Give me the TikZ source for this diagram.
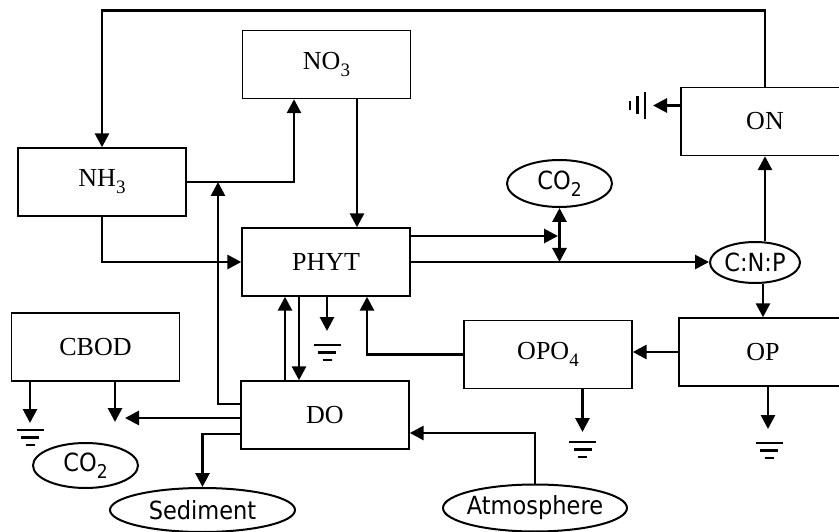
\documentclass[tikz,border=0pt]{standalone}
\usepackage{fontspec}
\setmainfont{Liberation Serif}
\newfontfamily\sfell[FakeStretch=0.9]{DejaVu Sans}
\usetikzlibrary{arrows.meta,shapes.geometric}
\newcommand\mysub[1]{\raisebox{-7pt}{\fontsize{19}{20}\selectfont #1}}
\begin{document}
\begin{tikzpicture}[x=1pt,y=-1pt,
  box/.style={draw, line width=1.4pt, minimum width=168pt, minimum height=68pt, inner sep=0pt, font=\fontsize{26}{30}\selectfont},
  ell/.style={draw, ellipse, line width=2pt, inner sep=0pt, font=\sfell\fontsize{25}{28}\selectfont},
  conn/.style={line width=2.8pt},
  arr/.style={conn, -{Triangle[length=14pt,width=14pt]}},
  darr/.style={conn, {Triangle[length=14pt,width=14pt]}-{Triangle[length=14pt,width=14pt]}},
  gnd/.pic={\draw[line width=2.6pt] (-13.5,0)--(13.5,0) (-9,7.5)--(9,7.5) (-4.5,15)--(4.5,15);}
]
\clip (0,0) rectangle (839,532);
% boxes
\node[box] (no3) at (326.5,64.5) {NO\mysub{3}};
\node[box] (nh3) at (102,182) {NH\mysub{3}};
\node[box] (on) at (765,121.5) {ON};
\node[box] (phyt) at (326,262) {PHYT};
\node[box] (cbod) at (95.5,347) {CBOD};
\node[box] (do) at (325,415) {DO};
\node[box] (opo4) at (548,354.5) {OPO\mysub{4}};
\node[box] (op) at (763,352) {OP};
% ellipses
\node[ell, minimum width=105pt, minimum height=47pt] (co2a) at (559.5,183.5) {CO\mysub{2}};
\node[ell, minimum width=90pt, minimum height=41pt] (cnp) at (755,262.5) {C:N:P};
\node[ell, minimum width=105pt, minimum height=45pt] (co2b) at (85.5,465.5) {CO\mysub{2}};
\node[ell, minimum width=185pt, minimum height=44pt] (sed) at (202.5,510) {Sediment};
\node[ell, minimum width=184pt, minimum height=47pt, inner xsep=-5pt] (atm) at (535,508) {Atmosphere};
% coordinates
\coordinate (j0) at (218,182);
\coordinate (j1) at (558,236);
\coordinate (j2) at (559.5,262);
\coordinate (c2) at (115,422);
\coordinate (c3) at (125,418);
\coordinate (gc) at (30,430);
\coordinate (gp) at (327,345);
\coordinate (go4) at (582.5,442);
\coordinate (gop) at (769,443);
\coordinate (gon) at (645,105.5);
% connectors
\draw[arr] (on.north) -- ++(0,-76) -| (nh3.north);
\draw[arr] (nh3.east) -| ([xshift=-32.5pt]no3.south);
\draw[arr] ([xshift=30.5pt]no3.south) -- ([xshift=30.5pt]no3.south |- phyt.north);
\draw[arr] (nh3.south) |- (phyt.west);
\draw[arr] ([yshift=11pt]do.west) -| (j0);
\draw[arr] ([yshift=26pt]phyt.east) -- (j1);
\draw[arr] (phyt.east) -- (phyt.east -| cnp.west);
\draw[darr] (co2a.south) -- (j2);
\draw[arr] (cnp.north -| on.south) -- (on.south);
\draw[arr] (cnp.south -| op.north) -- (op.north);
\draw[arr] (op.west) -- (op.west -| opo4.east);
\draw[arr] (opo4.west) -| ([xshift=41pt]phyt.south);
\draw[arr] ([xshift=-40pt]do.north) -- ([xshift=-40pt]do.north |- phyt.south);
\draw[arr] ([xshift=-27pt]phyt.south) -- ([xshift=-27pt]phyt.south |- do.north);
\draw[arr] (phyt.south -| gp) -- ([yshift=14pt]gp);
\draw[arr] (opo4.south -| go4) -- ([yshift=10pt]go4);
\draw[arr] ([xshift=-1pt]op.south -| gop) -- ([xshift=-1pt,yshift=14pt]gop);
\draw[arr] (cbod.south -| gc) -- ([yshift=7pt]gc);
\draw[arr] (cbod.south -| c2) -- (c2);
\draw[arr] ([yshift=-3pt]do.west) -- (c3);
\draw[arr] ([yshift=-19pt]do.west) -| (sed.north);
\draw[arr] (atm.north) |- ([yshift=-18pt]do.east);
\draw[arr] ([yshift=16pt]on.west) -- ([xshift=8pt]gon);
% grounds
\pic at (gc) {gnd};
\pic at (gp) {gnd};
\pic at (go4) {gnd};
\pic at (gop) {gnd};
\pic[rotate=-90] at (gon) {gnd};
\end{tikzpicture}
\end{document}
